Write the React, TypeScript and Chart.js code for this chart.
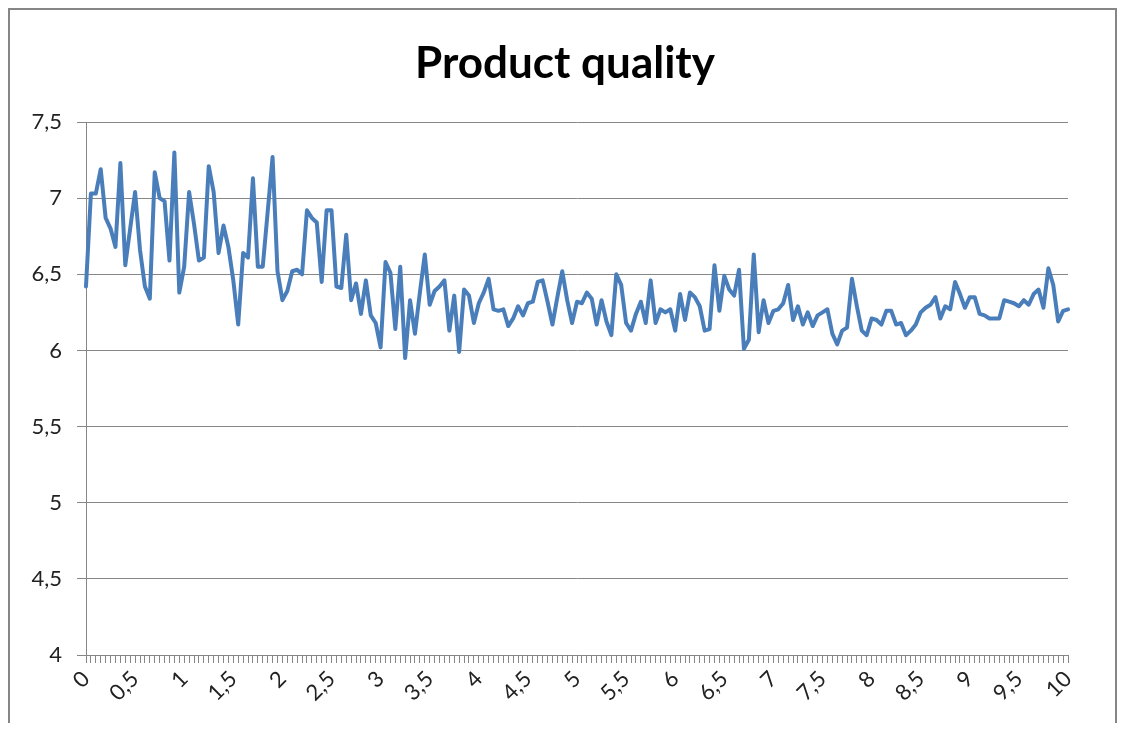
import React, { useEffect, useRef } from 'react';
import { Chart, registerables } from 'chart.js';

Chart.register(...registerables);

const TITLE = 'Product quality';

// x tick labels (every 10th category, step 0.5)
const tickLabels = ['0', '0,5', '1', '1,5', '2', '2,5', '3', '3,5', '4', '4,5', '5', '5,5', '6', '6,5', '7', '7,5', '8', '8,5', '9', '9,5', '10'];

// quality readings, x = 0 .. 2
const quality0to2 = [
  6.42, 7.03, 7.03, 7.19, 6.87, 6.80, 6.68, 7.23, 6.56, 6.80,
  7.04, 6.66, 6.42, 6.34, 7.17, 7.00, 6.98, 6.59, 7.30, 6.38,
  6.55, 7.04, 6.83, 6.59, 6.61, 7.21, 7.04, 6.64, 6.82, 6.68,
  6.46, 6.17, 6.64, 6.61, 7.13, 6.55, 6.55, 6.91, 7.27, 6.52,
  6.33,
];
// x = 2.05 .. 4
const quality2to4 = [
  6.39, 6.52, 6.53, 6.50, 6.92, 6.87, 6.84, 6.45, 6.92, 6.92,
  6.42, 6.41, 6.76, 6.33, 6.44, 6.24, 6.46, 6.23, 6.18, 6.02,
  6.58, 6.51, 6.14, 6.55, 5.95, 6.33, 6.11, 6.38, 6.63, 6.30,
  6.39, 6.42, 6.46, 6.13, 6.36, 5.99, 6.40, 6.36, 6.18, 6.31,
];
// x = 4.05 .. 6
const quality4to6 = [
  6.38, 6.47, 6.27, 6.26, 6.27, 6.16, 6.21, 6.29, 6.23, 6.31,
  6.32, 6.45, 6.46, 6.32, 6.17, 6.35, 6.52, 6.33, 6.18, 6.32,
  6.31, 6.38, 6.34, 6.17, 6.33, 6.19, 6.10, 6.50, 6.43, 6.18,
  6.13, 6.24, 6.32, 6.18, 6.46, 6.18, 6.27, 6.25, 6.27, 6.13,
];
// x = 6.05 .. 8
const quality6to8 = [
  6.37, 6.20, 6.38, 6.35, 6.29, 6.13, 6.14, 6.56, 6.26, 6.49,
  6.40, 6.36, 6.53, 6.01, 6.07, 6.63, 6.12, 6.33, 6.18, 6.26,
  6.27, 6.31, 6.43, 6.20, 6.29, 6.17, 6.25, 6.16, 6.23, 6.25,
  6.27, 6.11, 6.04, 6.13, 6.15, 6.47, 6.29, 6.13, 6.10, 6.21,
];
// x = 8.05 .. 10
const quality8to10 = [
  6.20, 6.17, 6.26, 6.26, 6.17, 6.18, 6.10, 6.13, 6.17, 6.25,
  6.28, 6.30, 6.35, 6.21, 6.29, 6.27, 6.45, 6.37, 6.28, 6.35,
  6.35, 6.24, 6.23, 6.21, 6.21, 6.21, 6.33, 6.32, 6.31, 6.29,
  6.33, 6.30, 6.37, 6.40, 6.28, 6.54, 6.43, 6.19, 6.26, 6.27,
];

const quality = [...quality0to2, ...quality2to4, ...quality4to6, ...quality6to8, ...quality8to10];
const categories = quality.map((_, i) => String(i));

const Y_MIN = 4;
const Y_MAX = 7.5;
const Y_STEP = 0.5;

const FONT = 'Lato, "Open Sans", sans-serif';
const GRID = '#868686';

const titlePlugin = {
  id: 'centredTitle',
  afterDraw(chart: any) {
    const ctx = chart.ctx;
    ctx.save();
    ctx.font = `bold 44px ${FONT}`;
    ctx.fillStyle = '#000';
    ctx.textAlign = 'center';
    ctx.textBaseline = 'alphabetic';
    ctx.fillText(TITLE, 555, 68);
    ctx.restore();
  },
};

export default function App() {
  const ref = useRef<HTMLCanvasElement>(null);

  useEffect(() => {
    const chart = new Chart(ref.current as HTMLCanvasElement, {
      type: 'line',
      data: {
        labels: categories,
        datasets: [
          {
            data: quality,
            borderColor: '#4a7ebb',
            borderWidth: 4,
            pointRadius: 0,
            tension: 0,
            fill: false,
            borderJoinStyle: 'round',
            borderCapStyle: 'round',
          },
        ],
      },
      plugins: [titlePlugin],
      options: {
        animation: false,
        responsive: false,
        devicePixelRatio: 1,
        layout: { padding: { left: 0, right: 47, top: 112, bottom: 0 } },
        plugins: {
          legend: { display: false },
          tooltip: { enabled: false },
          title: { display: false },
        },
        scales: {
          x: {
            type: 'category',
            offset: false,
            grid: {
              display: true,
              drawOnChartArea: false,
              drawTicks: true,
              tickLength: 8,
              color: GRID,
              offset: false,
            },
            border: { display: true, color: GRID },
            ticks: {
              autoSkip: false,
              minRotation: 45,
              maxRotation: 45,
              padding: 3,
              color: '#222',
              font: { family: FONT, size: 22 },
              callback: (_v: any, i: number) => (i % 10 === 0 ? tickLabels[i / 10] : ''),
            },
            afterFit: (s: any) => {
              s.height = 68;
            },
          },
          y: {
            min: Y_MIN,
            max: Y_MAX,
            grid: { color: GRID, tickLength: 9 },
            border: { display: true, color: GRID },
            ticks: {
              stepSize: Y_STEP,
              padding: 15,
              color: '#222',
              font: { family: FONT, size: 22 },
              callback: (v: any) => String(v).replace('.', ','),
            },
            afterFit: (s: any) => {
              s.width = 76;
            },
          },
        },
      },
    });
    return () => chart.destroy();
  }, []);

  return (
    <div
      style={{
        width: 1105,
        height: 713,
        borderTop: '2px solid #868686',
        borderLeft: '2px solid #868686',
        borderRight: '2px solid #868686',
        background: '#fff',
      }}
    >
      <canvas ref={ref} width={1105} height={713} style={{ display: 'block' }} />
    </div>
  );
}
